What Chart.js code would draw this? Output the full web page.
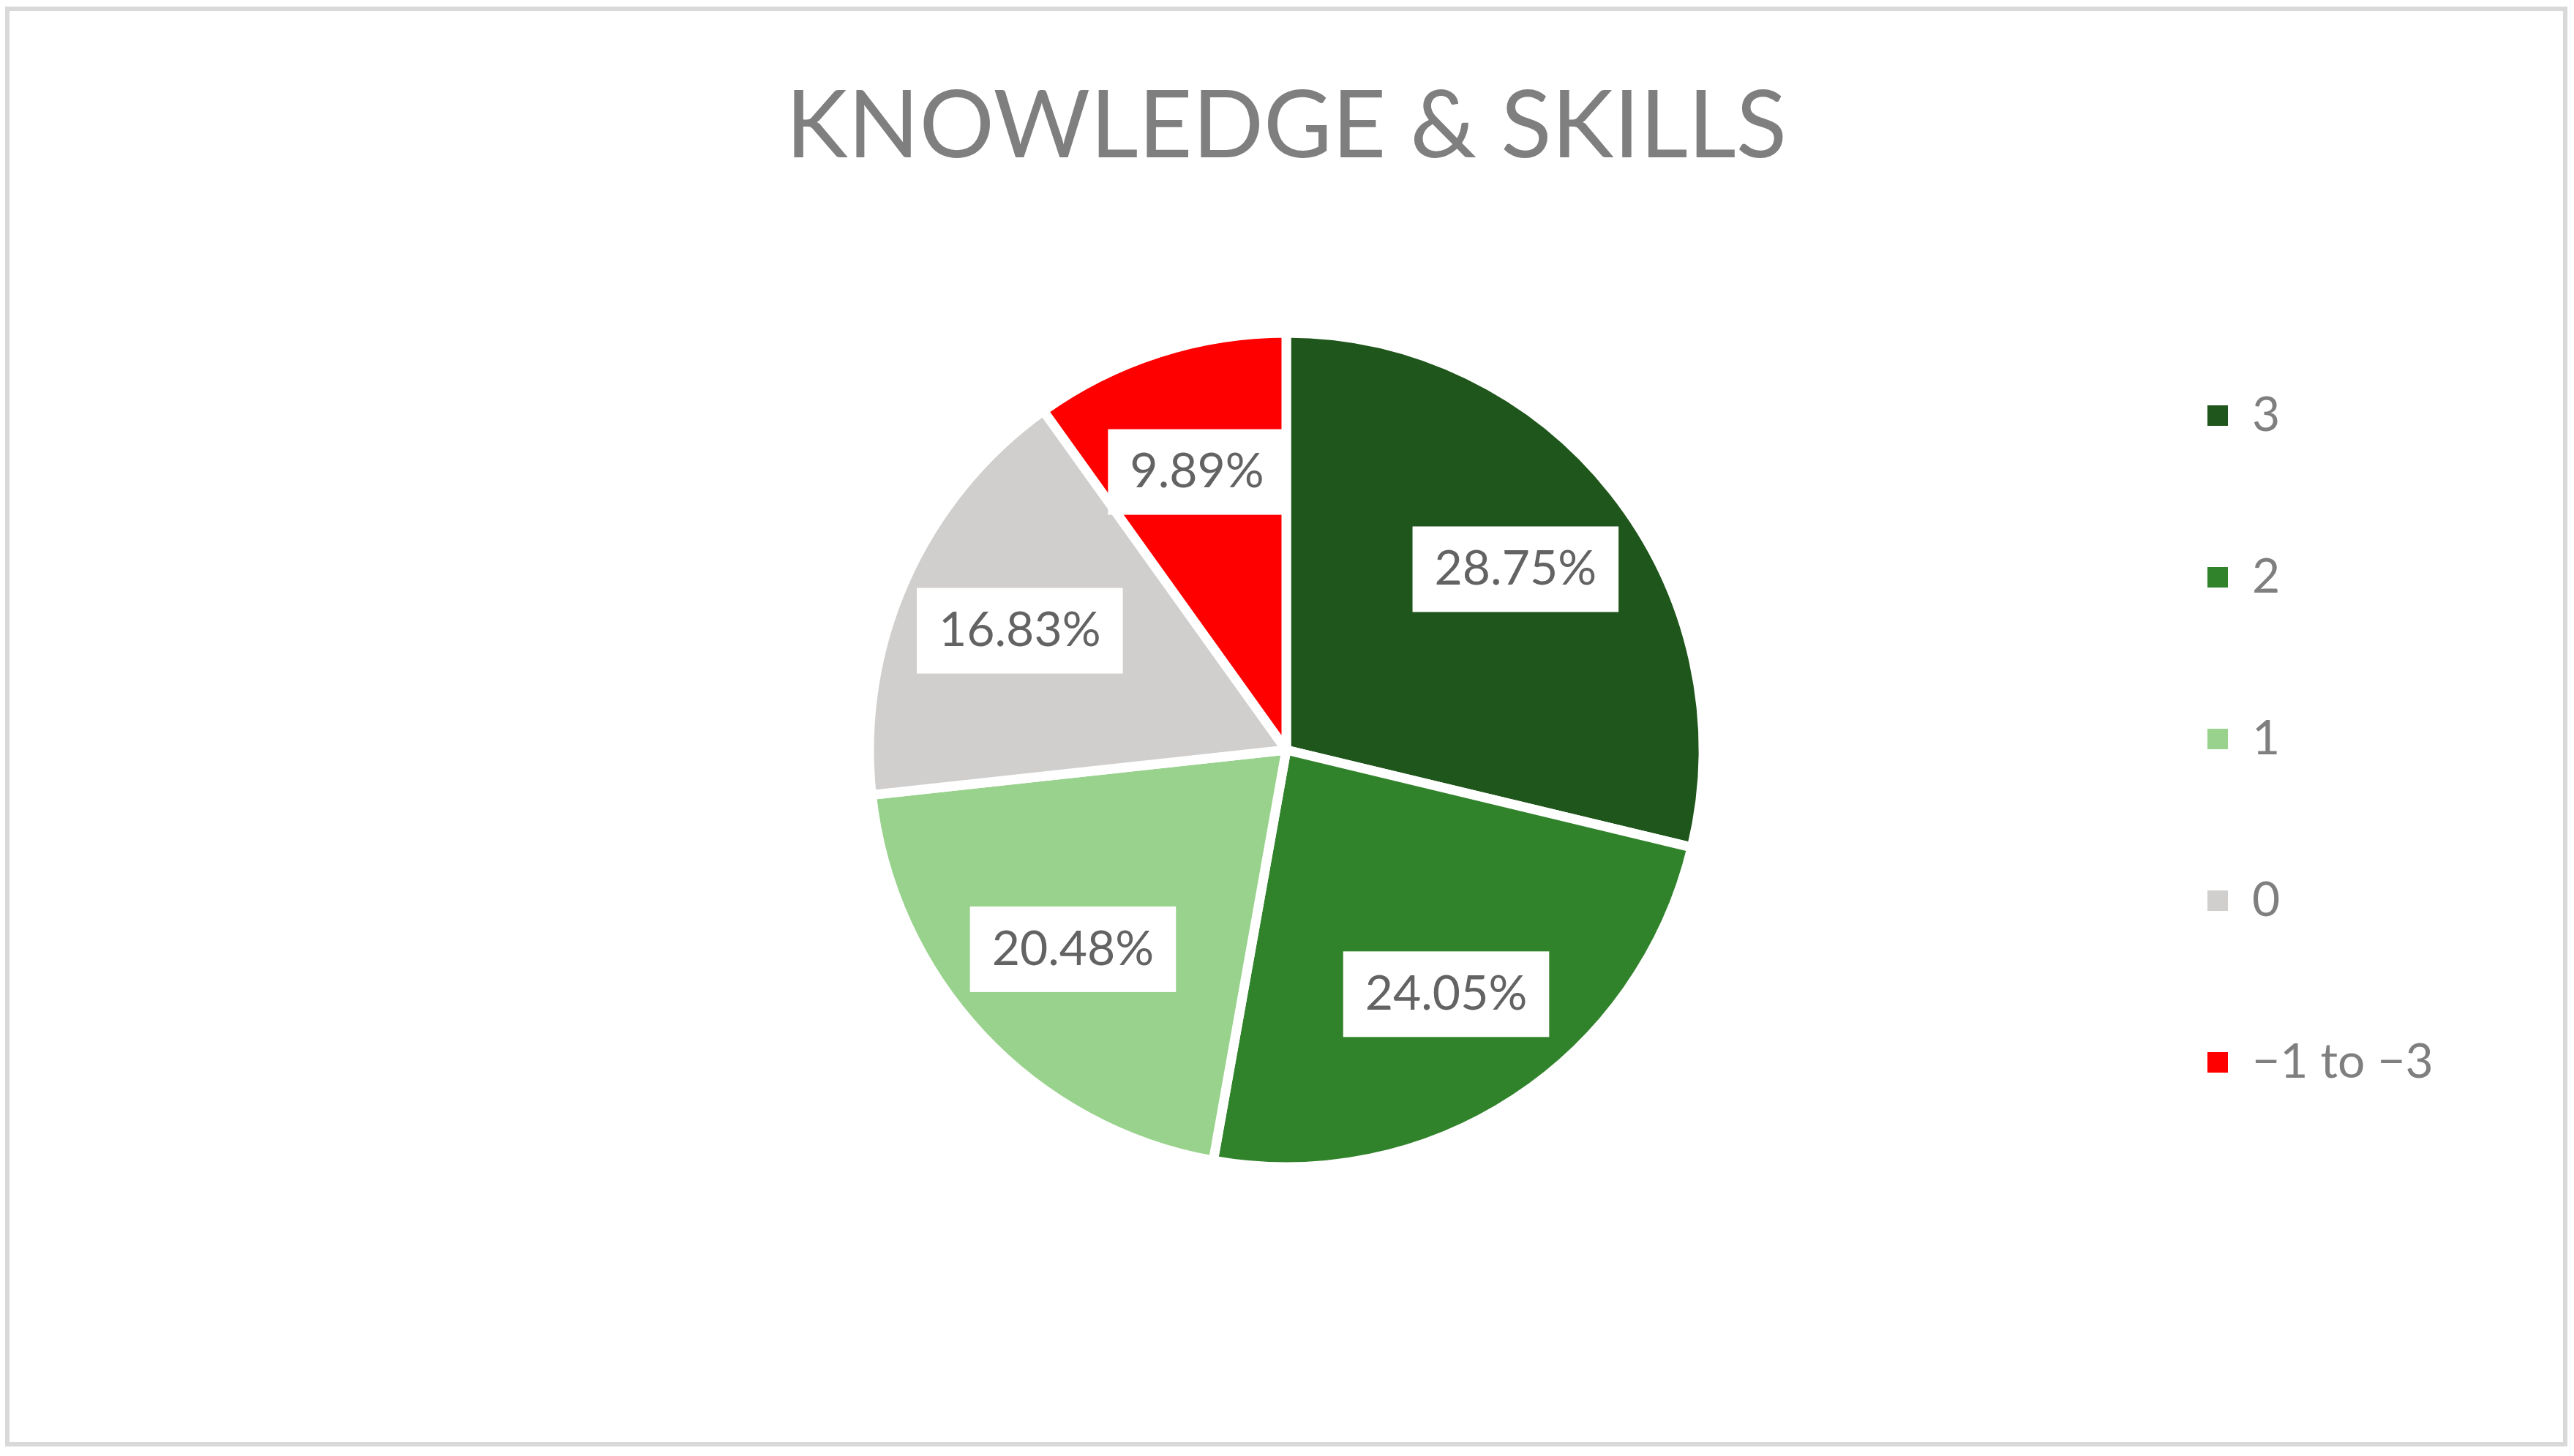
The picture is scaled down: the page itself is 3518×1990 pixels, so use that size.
<!DOCTYPE html>
<html>
<head>
<meta charset="utf-8">
<script src="https://cdn.jsdelivr.net/npm/chart.js@4.4.1/dist/chart.umd.min.js"></script>
<style>
  html, body { margin: 0; padding: 0; background: #ffffff; }
  #wrap { position: relative; width: 3518px; height: 1990px; }
  #chart { position: absolute; left: 0; top: 0; }
  #frame {
    position: absolute; left: 7px; top: 9px; width: 3502px; height: 1968px;
    border: 6px solid #d9d9d9; box-sizing: border-box; pointer-events: none;
  }
</style>
</head>
<body>
<div id="wrap">
  <canvas id="chart" width="3518" height="1990"></canvas>
  <div id="frame"></div>
</div>
<script>
const categories = ["3", "2", "1", "0", "\u22121 to \u22123"];
const shares = [28.75, 24.05, 20.48, 16.83, 9.89];
const sliceColors = ["#1f561b", "#31832b", "#98d28c", "#d0cfcd", "#ff0000"];

// white boxed percentage labels inside each slice
const sliceLabels = {
  id: "sliceLabels",
  afterDatasetsDraw(chart) {
    const ctx = chart.ctx;
    const meta = chart.getDatasetMeta(0);
    ctx.save();
    ctx.font = "66px Lato";
    ctx.textAlign = "center";
    ctx.textBaseline = "middle";
    meta.data.forEach((arc, i) => {
      const { x, y, startAngle, endAngle, outerRadius } =
        arc.getProps(["x", "y", "startAngle", "endAngle", "outerRadius"], true);
      const mid = (startAngle + endAngle) / 2;
      const r = outerRadius * 0.7;
      const cx = x + Math.cos(mid) * r;
      const cy = y + Math.sin(mid) * r;
      const text = shares[i].toFixed(2) + "%";
      const w = ctx.measureText(text).width + 60;
      const h = 117;
      ctx.fillStyle = "#ffffff";
      ctx.fillRect(cx - w / 2, cy - h / 2, w, h);
      ctx.fillStyle = "#636363";
      ctx.fillText(text, cx, cy);
    });
    ctx.restore();
  }
};

new Chart(document.getElementById("chart"), {
  type: "pie",
  data: {
    labels: categories,
    datasets: [
      {
        data: shares,
        backgroundColor: sliceColors,
        borderColor: "#ffffff",
        borderWidth: 13
      }
    ]
  },
  plugins: [sliceLabels],
  options: {
    responsive: false,
    animation: false,
    devicePixelRatio: 1,
    radius: 570,
    layout: {
      padding: { top: 110, bottom: 350, left: 654, right: 186 }
    },
    plugins: {
      title: {
        display: true,
        fullSize: false,
        text: "KNOWLEDGE & SKILLS",
        color: "#7f7f7f",
        font: { family: "Lato", size: 128, weight: "normal", lineHeight: 1 },
        padding: { top: 0, bottom: 172 }
      },
      legend: {
        position: "right",
        align: "end",
        maxWidth: 470,
        labels: {
          color: "#7f7f7f",
          font: { family: "Lato", size: 66 },
          boxWidth: 28,
          boxHeight: 28,
          padding: 155,
          generateLabels(chart) {
            const items = Chart.overrides.pie.plugins.legend.labels.generateLabels(chart);
            items.forEach((item) => { item.lineWidth = 0; });
            return items;
          }
        }
      },
      tooltip: { enabled: false }
    }
  }
});
</script>
</body>
</html>
